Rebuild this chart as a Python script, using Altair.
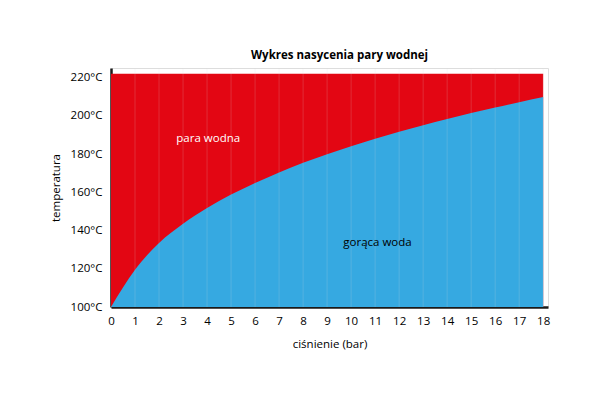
import altair as alt
import pandas as pd

pressure = list(range(19))
temperature = [100, 119.5, 133.5, 143.6, 151.8, 158.8, 164.9, 170.4, 175.4, 179.9,
               184.1, 188.0, 191.6, 195.0, 198.3, 201.4, 204.3, 207.1, 209.8]
y_ticks = [100, 120, 140, 160, 180, 200, 220]
grid_x = list(range(1, 19))
region_labels = ["para wodna", "gorąca woda"]
label_x = [4.05, 11.1]
label_y = [187.8, 133.7]
label_colors = ["#ffffff", "#000000"]

FONT = "Open Sans"
RED = "#E30613"
BLUE = "#36A9E1"

curve = pd.DataFrame({"p": pressure, "t": temperature})
steam = pd.DataFrame({"x": [0], "x2": [18], "y": [100], "y2": [222]})
grid = pd.DataFrame({"p": grid_x, "y": [100] * len(grid_x), "y2": [225] * len(grid_x)})
labels = pd.DataFrame({"text": region_labels, "x": label_x, "y": label_y, "c": label_colors})

xscale = alt.Scale(domain=[0, 18.2], nice=False, zero=False)
yscale = alt.Scale(domain=[100, 225], nice=False, zero=False)

xaxis = alt.Axis(values=pressure, format="d", title="ciśnienie (bar)",
                 labelOverlap=False, labelFlush=False, labelPadding=8, titlePadding=12)
yaxis = alt.Axis(values=y_ticks, labelExpr="datum.value + '°C'", title="temperatura",
                 labelOverlap=False, labelFlush=False, labelPadding=9, titlePadding=9)

red = alt.Chart(steam).mark_rect(color=RED).encode(
    x=alt.X("x:Q", scale=xscale, axis=xaxis), x2="x2:Q",
    y=alt.Y("y:Q", scale=yscale, axis=yaxis), y2="y2:Q")

blue = alt.Chart(curve).mark_area(color=BLUE, interpolate="monotone", opacity=1).encode(
    x=alt.X("p:Q", scale=xscale, axis=xaxis), y=alt.Y("t:Q", scale=yscale, axis=yaxis),
    y2=alt.datum(100))

rules = alt.Chart(grid).mark_rule(color="#e0e0e0", opacity=0.18, strokeWidth=1).encode(
    x=alt.X("p:Q", scale=xscale, axis=xaxis), y=alt.Y("y:Q", scale=yscale, axis=yaxis),
    y2="y2:Q")

text = alt.Chart(labels).mark_text(font=FONT, fontSize=11.5).encode(
    x=alt.X("x:Q", scale=xscale, axis=xaxis), y=alt.Y("y:Q", scale=yscale, axis=yaxis),
    text="text:N", color=alt.Color("c:N", scale=None))

chart = alt.layer(red, blue, rules, text).properties(
    width=437, height=239,
    title=alt.TitleParams("Wykres nasycenia pary wodnej", font=FONT, fontSize=11.5,
                          fontWeight="bold", color="#000", anchor="middle", dx=10,
                          offset=6),
    padding={"left": 103, "top": 60, "right": 44, "bottom": 85},
    autosize=alt.AutoSizeParams(type="none"),
).configure_view(stroke=None).configure(background="white").configure_axis(
    grid=False, ticks=False, domainColor="#1a1a1a", domainWidth=2.5,
    labelOverlap=False, labelFlush=False,
    labelFont=FONT, labelFontSize=11.5, labelColor="#000",
    titleFont=FONT, titleFontSize=11.5, titleFontWeight="normal", titleColor="#000")

chart.save("out.html", embed_options={"renderer": "svg", "actions": False})
